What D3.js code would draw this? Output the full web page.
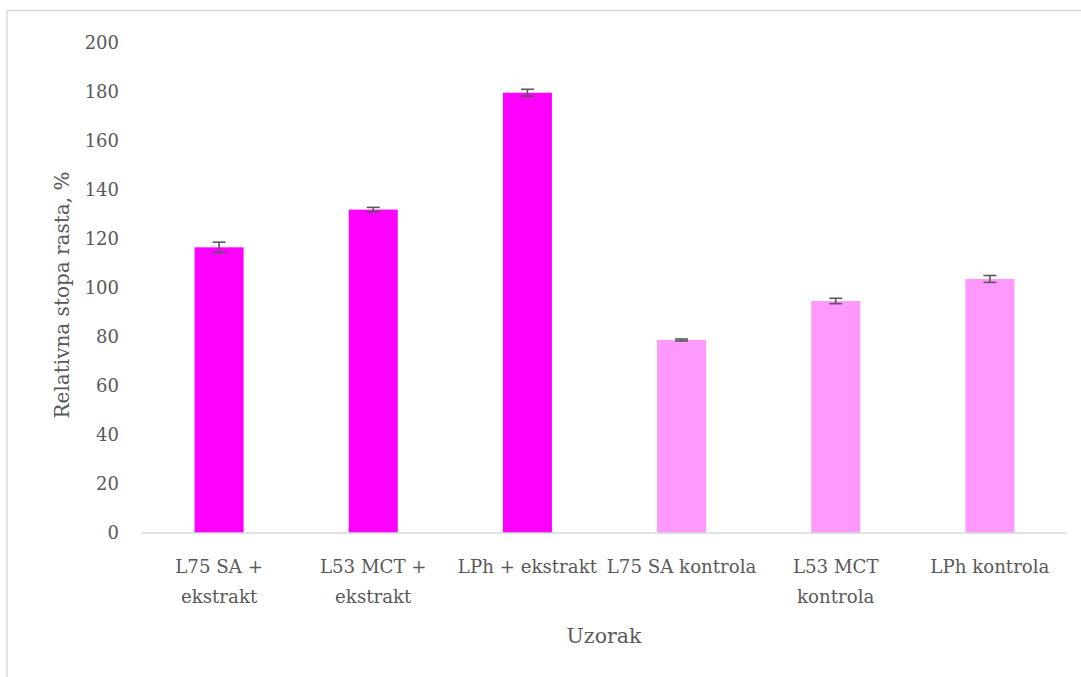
<!DOCTYPE html>
<html><head><meta charset="utf-8">
<script src="https://cdn.jsdelivr.net/npm/d3@7"></script>
<style>body{margin:0;background:#fff}svg{display:block}</style>
</head><body>
<svg id="c" width="1081" height="677"></svg>
<script>
const categories = [["L75 SA +","ekstrakt"],["L53 MCT +","ekstrakt"],["LPh + ekstrakt"],["L75 SA kontrola"],["L53 MCT","kontrola"],["LPh kontrola"]];
const values = [116.6, 132.0, 179.7, 78.8, 94.7, 103.7];
const errors = [2.1, 0.9, 1.4, 0.4, 1.1, 1.4];
const colors = ["#FF00FF","#FF00FF","#FF00FF","#FF99FF","#FF99FF","#FF99FF"];
const yTicks = [0,20,40,60,80,100,120,140,160,180,200];
const yTitle = "Relativna stopa rasta, %";
const xTitle = "Uzorak";

const svg = d3.select("#c");
const font = "'DejaVu Serif', Georgia, serif";
svg.append("rect").attr("x",7).attr("y",10.5).attr("width",1200).attr("height",800)
  .attr("fill","none").attr("stroke","#d9d9d9").attr("stroke-width",1.5);

const x = d3.scaleBand().domain(d3.range(categories.length)).range([142,1067]).paddingInner(0.682).paddingOuter(0.341);
const y = d3.scaleLinear().domain([0,200]).range([533,43]);

const g = svg.append("g");
g.selectAll("rect.bar").data(values).join("rect").attr("class","bar")
  .attr("x",(d,i)=>x(i)).attr("width",x.bandwidth())
  .attr("y",d=>y(d)).attr("height",d=>y(0)-y(d)).attr("fill",(d,i)=>colors[i]);

// baseline
svg.append("line").attr("x1",142).attr("x2",1067).attr("y1",y(0)).attr("y2",y(0)).attr("stroke","#d9d9d9").attr("stroke-width",1.5);

// error bars
const eb = g.selectAll("g.eb").data(values).join("g").attr("class","eb").attr("stroke","#595959").attr("stroke-width",1.6);
eb.append("line").attr("x1",(d,i)=>x(i)+x.bandwidth()/2).attr("x2",(d,i)=>x(i)+x.bandwidth()/2)
  .attr("y1",(d,i)=>y(d+errors[i])).attr("y2",(d,i)=>y(d-errors[i]));
eb.append("line").attr("x1",(d,i)=>x(i)+x.bandwidth()/2-6.5).attr("x2",(d,i)=>x(i)+x.bandwidth()/2+6.5)
  .attr("y1",(d,i)=>y(d+errors[i])).attr("y2",(d,i)=>y(d+errors[i]));
eb.append("line").attr("x1",(d,i)=>x(i)+x.bandwidth()/2-6.5).attr("x2",(d,i)=>x(i)+x.bandwidth()/2+6.5)
  .attr("y1",(d,i)=>y(d-errors[i])).attr("y2",(d,i)=>y(d-errors[i]));

// y axis
const ya = svg.append("g").attr("transform","translate(119,0)")
  .call(d3.axisLeft(y).tickValues(yTicks).tickSize(0).tickPadding(0));
ya.select(".domain").remove();
ya.selectAll("text").attr("font-family",font).attr("font-size",18).attr("fill","#595959");

// x labels
categories.forEach((lines,i)=>{
  const t = svg.append("text").attr("x",x(i)+x.bandwidth()/2).attr("y",573)
    .attr("text-anchor","middle").attr("font-family",font).attr("font-size",18.2).attr("fill","#595959");
  lines.forEach((l,j)=>t.append("tspan").attr("x",x(i)+x.bandwidth()/2).attr("dy",j?30:0).text(l));
});

svg.append("text").attr("x",604).attr("y",643).attr("text-anchor","middle")
  .attr("font-family",font).attr("font-size",20.5).attr("fill","#595959").text(xTitle);
svg.append("text").attr("transform","translate(69,295) rotate(-90)").attr("text-anchor","middle")
  .attr("font-family",font).attr("font-size",20).attr("fill","#595959").text(yTitle);
</script>
</body></html>
